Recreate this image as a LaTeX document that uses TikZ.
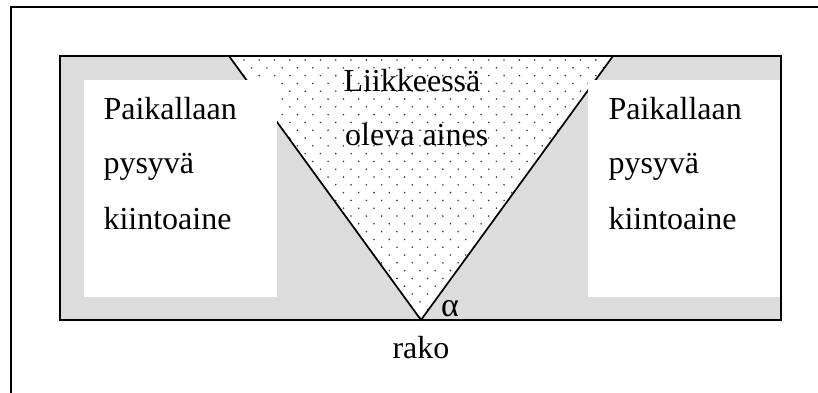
\documentclass[tikz,border=0pt]{standalone}
\usepackage{fontspec}
\setmainfont{Liberation Serif}
\definecolor{graybg}{RGB}{220,220,220}
\definecolor{dotc}{RGB}{60,60,60}
\tikzset{
  lbl/.style={anchor=base west, inner sep=0pt, font=\fontsize{32}{38}\selectfont},
  frame/.style={line width=2pt, draw=black},
  vline/.style={line width=1.7pt, draw=black}
}
\begin{document}
\begin{tikzpicture}[x=1pt,y=-1pt]
\useasboundingbox (0,0) rectangle (818,392);
\fill[white] (0,0) rectangle (818,392);
% outer page frame (only left and top visible)
\coordinate (ob) at (11,393);
\coordinate (oc) at (11,6.5);
\coordinate (or) at (819,6.5);
\draw[frame] (ob) -- (oc) -- (or);
% grey block
\coordinate (g1) at (60,56);
\coordinate (g2) at (781,320);
\fill[graybg] (g1) rectangle (g2);
% triangle
\coordinate (tl) at (229,56);
\coordinate (tr) at (613,56);
\coordinate (ta) at (421,320);
\fill[white] (tl) -- (tr) -- (ta) -- cycle;
\begin{scope}
\clip (tl) -- (tr) -- (ta) -- cycle;
\foreach \k in {0,...,34}{
  \foreach \m in {0,...,28}{
    \fill[dotc] ({190.4 + 15.3*\m - 7.65*mod(\k,2)}, {255 + 7.8*(\k-26)}) circle[radius=0.9pt];
  }
}
\end{scope}
\draw[vline] (tl) -- (ta) -- (tr);
% white boxes
\coordinate (l1) at (84,80);
\coordinate (l2) at (277,297);
\coordinate (r1) at (588,80);
\coordinate (r2) at (781,297);
\fill[white] (l1) rectangle (l2);
\fill[white] (r1) rectangle (r2);
\draw[frame] (g1) rectangle (g2);
% texts
\node[lbl] (lt1) at (103.3,119.3) {Paikallaan};
\node[lbl] (lt2) at (103.3,173) {pysyvä};
\node[lbl] (lt3) at (103.3,229) {kiintoaine};
\node[lbl] (rt1) at (608.3,119.3) {Paikallaan};
\node[lbl] (rt2) at (608.3,173) {pysyvä};
\node[lbl] (rt3) at (608.3,229) {kiintoaine};
\node[lbl] (ct1) at (343.3,91) {Liikkeessä};
\node[lbl] (ct2) at (345,145) {oleva aines};
\node[lbl, font=\fontsize{34}{38}\selectfont] (al) at (441,316) {α};
\node[lbl] (rk) at (392.3,358.3) {rako};
\end{tikzpicture}
\end{document}
